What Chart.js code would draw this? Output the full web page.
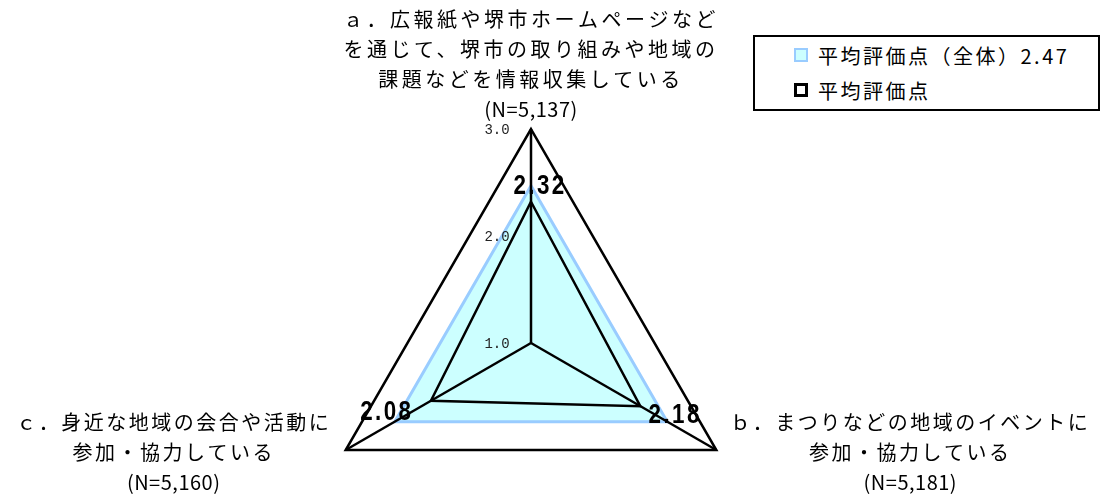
<!DOCTYPE html>
<html lang="ja">
<head>
<meta charset="UTF-8">
<title>平均評価点</title>
<script src="https://cdn.jsdelivr.net/npm/chart.js"></script>
<style>
    html, body {
        margin: 0;
        padding: 0;
        background: #fff;
        overflow: hidden;
    }
    #wrap {
        position: relative;
        width: 1114px;
        height: 557px;
    }
    .legend {
        position: absolute;
        left: 753px;
        top: 35px;
        width: 343px;
        height: 72px;
        border: 2px solid #000;
        background: #fff;
        font-family: "Noto Sans CJK JP", sans-serif;
        font-size: 20px;
        color: #000;
    }
    .legend-item {
        position: absolute;
        left: 39px;
        height: 30px;
        display: flex;
        align-items: center;
        letter-spacing: 2.5px;
        white-space: nowrap;
    }
    .swatch {
        display: inline-block;
        width: 14px;
        height: 14px;
        margin-right: 10px;
        box-sizing: border-box;
    }
</style>
</head>
<body>
<div id="wrap">
    <canvas id="radar"></canvas>
    <div class="legend" id="legend"></div>
</div>

<script>
    // Data
    const categories = [
        ['ａ．広報紙や堺市ホームページなど', 'を通じて、堺市の取り組みや地域の', '課題などを情報収集している', '(N=5,137)'],
        ['ｂ．まつりなどの地域のイベントに', '参加・協力している', '(N=5,181)'],
        ['ｃ．身近な地域の会合や活動に', '参加・協力している', '(N=5,160)']
    ];
    const seriesNames = ['平均評価点（全体）2.47', '平均評価点'];
    const overallValues = [2.47, 2.47, 2.47];
    const scoreValues = [2.32, 2.18, 2.08];
    const scoreLabels = ['2.32', '2.18', '2.08'];
    const tickValues = [1, 2, 3];
    const tickLabels = ['1.0', '2.0', '3.0'];

    // where the text sits relative to each axis end
    const axisTextOffset = [
        { dx: 0, dy: -110, spacing: 3.5 },
        { dx: 194, dy: -28, spacing: 2.5 },
        { dx: -172, dy: -28, spacing: 2.5 }
    ];
    const valueTextOffset = [
        { dx: 9, dy: 1 },
        { dx: 8, dy: -6 },
        { dx: -8, dy: -9 }
    ];

    const textPlugin = {
        id: 'radarText',
        afterDatasetsDraw(chart) {
            // spokes from the centre to each corner
            const r = chart.scales.r;
            const ctx = chart.ctx;
            ctx.save();
            ctx.strokeStyle = '#000';
            ctx.lineWidth = 2.5;
            categories.forEach((_, i) => {
                const p = r.getPointPosition(i, r.drawingArea);
                ctx.beginPath();
                ctx.moveTo(r.xCenter, r.yCenter);
                ctx.lineTo(p.x, p.y);
                ctx.stroke();
            });
            ctx.restore();
        },
        afterDraw(chart) {
            const r = chart.scales.r;
            const ctx = chart.ctx;
            ctx.save();

            // tick labels, left of the vertical axis
            ctx.font = '14px "Liberation Mono", monospace';
            ctx.fillStyle = '#222';
            ctx.textAlign = 'center';
            ctx.textBaseline = 'middle';
            tickValues.forEach((v, i) => {
                const y = r.yCenter - r.getDistanceFromCenterForValue(v);
                ctx.fillText(tickLabels[i], r.xCenter - 34, y + 1);
            });

            // category labels
            ctx.font = '20px "Noto Sans CJK JP", sans-serif';
            ctx.fillStyle = '#000';
            categories.forEach((lines, i) => {
                const p = r.getPointPosition(i, r.drawingArea);
                const off = axisTextOffset[i];
                lines.forEach((line, j) => {
                    // the (N=...) line is half-width, keep it tight
                    ctx.letterSpacing = (line.startsWith('(') ? 0.5 : off.spacing) + 'px';
                    ctx.fillText(line, p.x + off.dx, p.y + off.dy + j * 30);
                });
            });

            // value labels
            ctx.font = 'bold 28px "Liberation Sans", sans-serif';
            ctx.letterSpacing = '3px';
            scoreLabels.forEach((txt, i) => {
                const p = r.getPointPositionForValue(i, overallValues[i]);
                const off = valueTextOffset[i];
                ctx.save();
                ctx.translate(p.x + off.dx, p.y + off.dy);
                ctx.scale(0.8, 1);
                ctx.fillText(txt, 0, 0);
                ctx.restore();
            });
            ctx.restore();
        }
    };

    const ctx = document.getElementById('radar').getContext('2d');
    const chart = new Chart(ctx, {
        type: 'radar',
        data: {
            labels: categories,
            datasets: [{
                label: seriesNames[0],
                data: overallValues,
                borderColor: '#99CCFF',
                backgroundColor: '#CCFFFF',
                borderWidth: 3,
                fill: true,
                pointRadius: 0,
                order: 1
            }, {
                label: seriesNames[1],
                data: scoreValues,
                borderColor: '#000',
                backgroundColor: 'rgba(0,0,0,0)',
                borderWidth: 2.5,
                fill: false,
                pointRadius: 0,
                order: 0
            }]
        },
        options: {
            responsive: true,
            maintainAspectRatio: false,
            animation: false,
            devicePixelRatio: 1,
            layout: { padding: { top: 129, right: 52, left: 0, bottom: 0 } },
            elements: { line: { tension: 0, borderJoinStyle: 'miter' } },
            plugins: {
                legend: { display: false },
                tooltip: { enabled: false }
            },
            scales: {
                r: {
                    min: 1,
                    max: 3,
                    z: 1,
                    ticks: { display: false, stepSize: 1 },
                    pointLabels: { display: false },
                    grid: {
                        color: c => (c.tick && c.tick.value === 3) ? '#000' : 'rgba(0,0,0,0)',
                        lineWidth: 2.5
                    },
                    angleLines: { display: false }
                }
            }
        },
        plugins: [textPlugin]
    });

    // html legend
    const legendEl = document.getElementById('legend');
    const swatchStyles = [
        'background:#CCFFFF;border:2px solid #99CCFF;',
        'background:#fff;border:3px solid #000;'
    ];
    seriesNames.forEach((name, i) => {
        const item = document.createElement('div');
        item.className = 'legend-item';
        item.style.top = (3 + i * 35) + 'px';
        item.innerHTML = '<span class="swatch" style="' + swatchStyles[i] + '"></span>' + name;
        legendEl.appendChild(item);
    });
</script>
</body>
</html>
